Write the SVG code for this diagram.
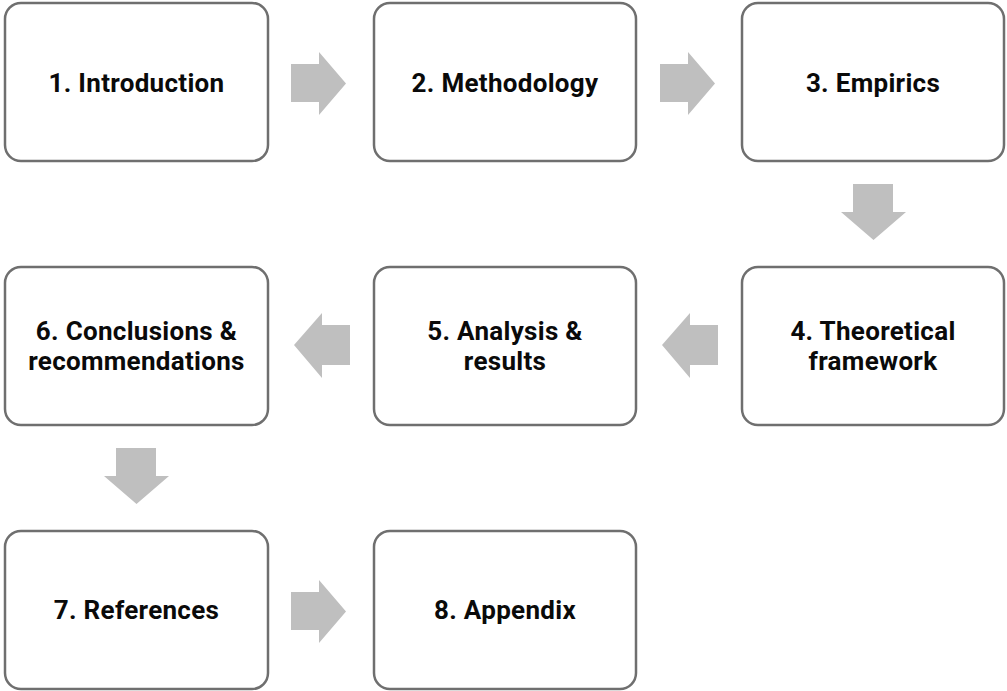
<svg xmlns="http://www.w3.org/2000/svg" width="1007" height="691" viewBox="0 0 1007 691">
<style>
.box{fill:#fff;stroke:#6f6f6f;stroke-width:2.5}
.lbl{font-family:Roboto,"Liberation Sans",sans-serif;font-weight:bold;font-size:26px;letter-spacing:0.3px;fill:#0a0a0a;text-anchor:middle}
.arr{fill:#bfbfbf}
</style>
<rect width="1007" height="691" fill="#fff"/>
<g id="n1"><rect class="box" x="5" y="3" width="263" height="158" rx="16"/><text class="lbl" x="136.5" y="92">1. Introduction</text></g>
<g id="n2"><rect class="box" x="374" y="3" width="262" height="158" rx="16"/><text class="lbl" x="505" y="92">2. Methodology</text></g>
<g id="n3"><rect class="box" x="742" y="3" width="262" height="158" rx="16"/><text class="lbl" x="873" y="92">3. Empirics</text></g>
<g id="n4"><rect class="box" x="742" y="267" width="262" height="158" rx="16"/><text class="lbl" x="873" y="340">4. Theoretical</text><text class="lbl" x="873" y="370">framework</text></g>
<g id="n5"><rect class="box" x="374" y="267" width="262" height="158" rx="16"/><text class="lbl" x="505" y="340">5. Analysis &amp;</text><text class="lbl" x="505" y="370">results</text></g>
<g id="n6"><rect class="box" x="5" y="267" width="263" height="158" rx="16"/><text class="lbl" x="136.5" y="340">6. Conclusions &amp;</text><text class="lbl" x="136.5" y="370">recommendations</text></g>
<g id="n7"><rect class="box" x="5" y="531" width="263" height="158" rx="16"/><text class="lbl" x="136.5" y="619">7. References</text></g>
<g id="n8"><rect class="box" x="374" y="531" width="262" height="158" rx="16"/><text class="lbl" x="505" y="619">8. Appendix</text></g>
<g id="connectors">
<polygon class="arr" points="291,64 319,64 319,52 346,83.5 319,115 319,102 291,102"/>
<polygon class="arr" points="660,64 688,64 688,52 715,83.5 688,115 688,102 660,102"/>
<polygon class="arr" points="853,184 893,184 893,212 906,212 873.5,240 841,212 853,212"/>
<polygon class="arr" points="718,325 690,325 690,313 662,345 690,378 690,365 718,365"/>
<polygon class="arr" points="350,325 322,325 322,313 294,345 322,378 322,365 350,365"/>
<polygon class="arr" points="116,448 156,448 156,476 169,476 136.5,504 104,476 116,476"/>
<polygon class="arr" points="291,592 319,592 319,580 346,611.5 319,643 319,630 291,630"/>
</g>
</svg>
